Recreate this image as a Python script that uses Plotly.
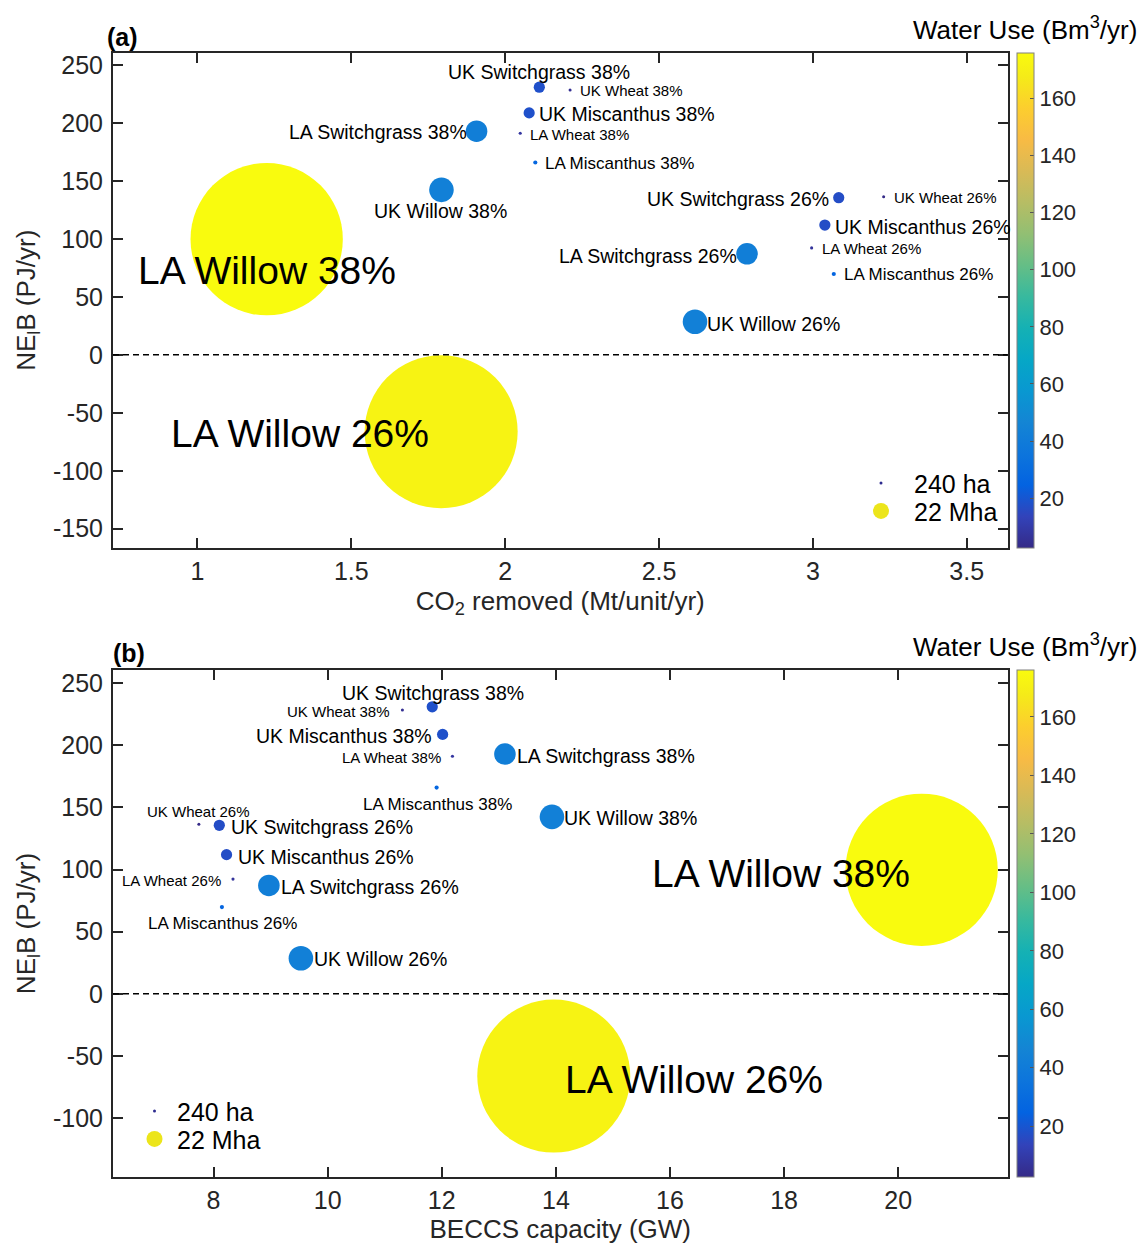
import plotly.graph_objects as go
import numpy as np

# ---------------- data ----------------
NAMES = ["UK Switchgrass 38%", "UK Wheat 38%", "UK Miscanthus 38%", "LA Switchgrass 38%",
         "LA Wheat 38%", "LA Miscanthus 38%", "UK Willow 38%", "LA Willow 38%",
         "UK Switchgrass 26%", "UK Wheat 26%", "UK Miscanthus 26%", "LA Wheat 26%",
         "LA Switchgrass 26%", "LA Miscanthus 26%", "UK Willow 26%", "LA Willow 26%"]
CO2_REMOVED = [2.111, 2.211, 2.078, 1.907, 2.049, 2.098, 1.793, 1.225,
               3.084, 3.230, 3.039, 2.996, 2.786, 3.068, 2.617, 1.792]        # Mt/unit/yr
BECCS_CAPACITY = [11.833, 11.31, 12.015, 13.107, 12.187, 11.91, 13.931, 20.41,
                  8.101, 7.743, 8.228, 8.341, 8.97, 8.147, 9.531, 13.963]     # GW
NET_ENERGY = [231, 228.5, 208.8, 193, 191.2, 166, 142.4, 99.8,
              135.6, 136.5, 112, 92.3, 87.2, 69.8, 28.6, -66.3]               # PJ/yr
LAND_AREA = [0.11, 0.0005, 0.11, 0.43, 0.001, 0.008, 0.56, 21.8,
             0.11, 0.00024, 0.11, 0.001, 0.43, 0.008, 0.56, 22.0]             # Mha
WATER_USE = [18, 5, 18, 42, 8, 27, 43, 176,
             17, 2.6, 17, 7, 42, 26, 43, 172]                                 # Bm3/yr

SIZE_LEGEND_LABELS = ["240 ha", "22 Mha"]

A_XTICKS = [1, 1.5, 2, 2.5, 3, 3.5]
A_XTICK_LABELS = ["1", "1.5", "2", "2.5", "3", "3.5"]
A_YTICKS = [-150, -100, -50, 0, 50, 100, 150, 200, 250]
A_YTICK_LABELS = ["-150", "-100", "-50", "0", "50", "100", "150", "200", "250"]
B_XTICKS = [8, 10, 12, 14, 16, 18, 20]
B_XTICK_LABELS = ["8", "10", "12", "14", "16", "18", "20"]
B_YTICKS = [-100, -50, 0, 50, 100, 150, 200, 250]
B_YTICK_LABELS = ["-100", "-50", "0", "50", "100", "150", "200", "250"]
CB_TICKS = [20, 40, 60, 80, 100, 120, 140, 160]

# ---------------- style ----------------
W, H = 1143, 1244
FONT = "Liberation Sans, Arial, Helvetica, sans-serif"
AX_COLOR = "#262626"

PARULA = [
    (0.2081, 0.1663, 0.5292), (0.1959, 0.2645, 0.7279), (0.0117, 0.3875, 0.8820),
    (0.0498, 0.4586, 0.8641), (0.0793, 0.5200, 0.8312), (0.0343, 0.5966, 0.8199),
    (0.0228, 0.6535, 0.7768), (0.0843, 0.6928, 0.7062), (0.2178, 0.7250, 0.6193),
    (0.3953, 0.7459, 0.5244), (0.5709, 0.7485, 0.4494), (0.7184, 0.7411, 0.3905),
    (0.8507, 0.7299, 0.3360), (0.9739, 0.7314, 0.2666), (0.9880, 0.8066, 0.1794),
    (0.9598, 0.9218, 0.0948), (0.9763, 0.9831, 0.0538)]
PARULA_POS = [0, 4, 8, 12, 16, 20, 24, 28, 32, 36, 40, 44, 48, 52, 56, 60, 63]
COLORSCALE = [[p / 63, "rgb(%d,%d,%d)" % tuple(int(round(c * 255)) for c in rgb)]
              for p, rgb in zip(PARULA_POS, PARULA)]

DMIN, DMAX = 3.0, 153.0
LEGEND_MARKER_SIZES = [3, 28]
LEGEND_MARKER_COLORS = ["#2d2b8f", "#ece51b"]


def label_font(name):
    if "Willow" in name and name.startswith("LA"):
        return 39
    if "Wheat" in name:
        return 15
    if name.startswith("LA Miscanthus"):
        return 17
    return 19.5


# (xanchor, xshift px, yshift px)
LABELS_A = {
    "UK Switchgrass 38%": ("center", 0, 15), "UK Wheat 38%": ("left", 8, 0),
    "UK Miscanthus 38%": ("left", 8, -1), "LA Switchgrass 38%": ("right", -8, -1),
    "LA Wheat 38%": ("left", 8, -1), "LA Miscanthus 38%": ("left", 8, -1),
    "UK Willow 38%": ("center", -1, -21), "LA Willow 38%": ("center", 0, -31),
    "UK Switchgrass 26%": ("right", -8, -1.5), "UK Wheat 26%": ("left", 8, -1),
    "UK Miscanthus 26%": ("left", 8, -1.5), "LA Wheat 26%": ("left", 8.5, -1),
    "LA Switchgrass 26%": ("right", -8, -2), "LA Miscanthus 26%": ("left", 8.5, -1),
    "UK Willow 26%": ("left", 9.5, -2), "LA Willow 26%": ("right", -10, -2),
}
LABELS_B = {
    "UK Switchgrass 38%": ("center", 0.5, 14), "UK Wheat 38%": ("right", -10, -1.5),
    "UK Miscanthus 38%": ("right", -9, -1.5), "LA Wheat 38%": ("right", -9.5, -1),
    "LA Switchgrass 38%": ("left", 10.5, -2), "LA Miscanthus 38%": ("center", 0.5, -17),
    "UK Willow 38%": ("left", 10.5, -1.5), "LA Willow 38%": ("right", -10, -4),
    "UK Wheat 26%": ("center", 0, 12.5), "UK Switchgrass 26%": ("left", 10, -1.5),
    "UK Miscanthus 26%": ("left", 9.5, -2), "LA Wheat 26%": ("right", -10, -1.5),
    "LA Switchgrass 26%": ("left", 10.5, -2), "LA Miscanthus 26%": ("center", 1, -16.5),
    "UK Willow 26%": ("left", 11, -1), "LA Willow 26%": ("left", 9.5, -3.5),
}

# size-legend placement: (legend left px, legend top px, itemwidth) per entry
SIZE_LEGEND_POS_A = [(848, 459, 56), (848, 487, 56)]
SIZE_LEGEND_POS_B = [(132, 1088, 35), (132, 1116, 35)]

# bubble diameters: area linear in land area between DMIN and DMAX
area = np.array(LAND_AREA)
frac = (area - area.min()) / (area.max() - area.min())
diam = np.sqrt(DMIN ** 2 + (DMAX ** 2 - DMIN ** 2) * frac)

fig = go.Figure()

panels = [
    dict(x=CO2_REMOVED, xa="x", ya="y", cax="coloraxis", labels=LABELS_A,
         legends=["legend", "legend2"], legpos=SIZE_LEGEND_POS_A),
    dict(x=BECCS_CAPACITY, xa="x2", ya="y2", cax="coloraxis2", labels=LABELS_B,
         legends=["legend3", "legend4"], legpos=SIZE_LEGEND_POS_B),
]


def legend_cfg(xl, ytop, iw):
    return dict(x=xl / W, y=1 - ytop / H, xanchor="left", yanchor="top",
                xref="paper", yref="paper", bgcolor="rgba(0,0,0,0)", borderwidth=0,
                itemsizing="trace", itemwidth=iw,
                font=dict(family=FONT, size=25, color="black"), tracegroupgap=0)


annotations = []
legend_layouts = {}
for p in panels:
    fig.add_trace(go.Scatter(
        x=p["x"], y=NET_ENERGY, mode="markers", xaxis=p["xa"], yaxis=p["ya"],
        text=NAMES, hoverinfo="text", showlegend=False,
        marker=dict(size=diam, color=WATER_USE, coloraxis=p["cax"], line=dict(width=0),
                    opacity=1)))
    for lab, xv, yv in zip(NAMES, p["x"], NET_ENERGY):
        xanc, xs, ys = p["labels"][lab]
        annotations.append(dict(
            x=xv, y=yv, xref=p["xa"], yref=p["ya"], text=lab, showarrow=False,
            xanchor=xanc, yanchor="middle", xshift=xs, yshift=ys,
            font=dict(family=FONT, size=label_font(lab), color="black")))
    for lab, sz, col, lg, pos in zip(SIZE_LEGEND_LABELS, LEGEND_MARKER_SIZES,
                                     LEGEND_MARKER_COLORS, p["legends"], p["legpos"]):
        fig.add_trace(go.Scatter(
            x=[None], y=[None], mode="markers", xaxis=p["xa"], yaxis=p["ya"], name=lab,
            legend=lg, showlegend=True,
            marker=dict(size=sz, color=col, line=dict(width=0))))
        legend_layouts[lg] = legend_cfg(*pos)


def axis_common(title, tickvals, ticktext, standoff, lab_standoff):
    return dict(
        title=dict(text=title, font=dict(family=FONT, size=26, color=AX_COLOR),
                   standoff=standoff),
        tickmode="array", tickvals=tickvals, ticktext=ticktext,
        ticks="inside", ticklen=10, tickwidth=1.5, tickcolor=AX_COLOR,
        showline=True, linewidth=2, linecolor=AX_COLOR, mirror="ticks",
        showgrid=False, zeroline=False, ticklabelstandoff=lab_standoff,
        tickfont=dict(family=FONT, size=25, color=AX_COLOR))


XDOM = [113 / W, 1007.5 / W]
YDOM_A = [1 - 546.7 / H, 1 - 50.7 / H]
YDOM_B = [1 - 1177 / H, 1 - 669 / H]

ylab = "NE<sub>l</sub>B (PJ/yr)"

xa = axis_common("CO<sub>2</sub> removed (Mt/unit/yr)", A_XTICKS, A_XTICK_LABELS, 8, 0)
xa.update(domain=XDOM, range=[0.7256, 3.6325], anchor="y")
ya = axis_common(ylab, A_YTICKS, A_YTICK_LABELS, 10, 3)
ya.update(domain=YDOM_A, range=[-166.5, 260.8], anchor="x")
xb = axis_common("BECCS capacity (GW)", B_XTICKS, B_XTICK_LABELS, 8, 0)
xb.update(domain=XDOM, range=[6.238, 21.915], anchor="y2")
yb = axis_common(ylab, B_YTICKS, B_YTICK_LABELS, 10, 3)
yb.update(domain=YDOM_B, range=[-147.6, 260.7], anchor="x2")


def cbar(ydom):
    return dict(
        colorscale=COLORSCALE,
        colorbar=dict(
            x=1016.7 / W, xanchor="left", xpad=0, xref="paper",
            y=ydom[0], yanchor="bottom", ypad=0, yref="paper",
            len=ydom[1] - ydom[0], lenmode="fraction",
            thickness=17, thicknessmode="pixels",
            outlinewidth=1, outlinecolor="#808080",
            tickmode="array", tickvals=CB_TICKS,
            ticks="inside", ticklen=4, tickcolor="#555555",
            tickfont=dict(family=FONT, size=22, color=AX_COLOR)))


shapes = []
for xa_, ya_ in [("x", "y"), ("x2", "y2")]:
    shapes.append(dict(type="line", xref=xa_ + " domain", yref=ya_, x0=0, x1=1, y0=0, y1=0,
                       line=dict(color="black", width=1.5, dash="6px,4px")))

for txt, xp, yp in [("<b>(a)</b>", 105, 35), ("<b>(b)</b>", 111, 652)]:
    annotations.append(dict(text=txt, x=xp / W, y=1 - yp / H, xref="paper", yref="paper",
                            xanchor="left", yanchor="middle", showarrow=False,
                            font=dict(family=FONT, size=25, color="black")))
for yp in [27, 645]:
    annotations.append(dict(text="Water Use (Bm<sup>3</sup>/yr)", x=1139 / W, y=1 - yp / H,
                            xref="paper", yref="paper", xanchor="right", yanchor="middle",
                            showarrow=False, font=dict(family=FONT, size=26, color="black")))

fig.update_layout(
    width=W, height=H, margin=dict(l=0, r=0, t=0, b=0),
    paper_bgcolor="white", plot_bgcolor="white",
    font=dict(family=FONT, color=AX_COLOR),
    xaxis=xa, yaxis=ya, xaxis2=xb, yaxis2=yb,
    coloraxis=cbar(YDOM_A), coloraxis2=cbar(YDOM_B),
    shapes=shapes, annotations=annotations,
    showlegend=True,
    **legend_layouts,
)

fig.write_html("out.html", config={"displayModeBar": False},
               post_script="document.body.style.margin='0px'; document.body.style.overflow='hidden';")
